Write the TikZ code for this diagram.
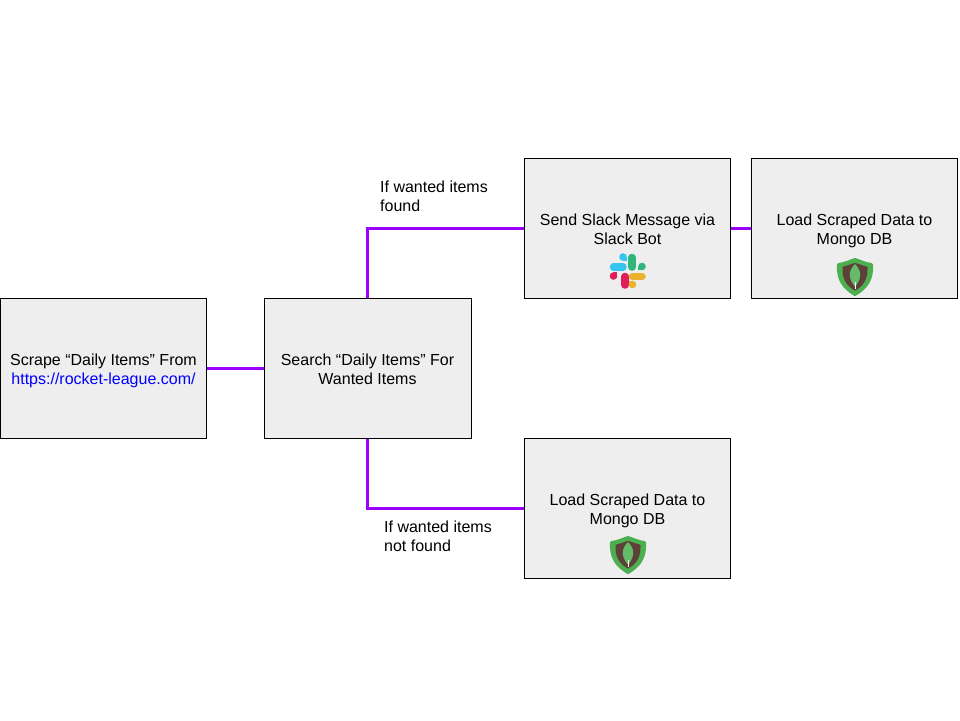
\documentclass[tikz,border=0pt]{standalone}
\usepackage{fontspec}
\setmainfont{Liberation Sans}
\definecolor{boxgray}{HTML}{EEEEEE}
\definecolor{linkpurple}{HTML}{9900FF}
\definecolor{slackblue}{HTML}{36C5F0}
\definecolor{slackgreen}{HTML}{2EB67D}
\definecolor{slackred}{HTML}{E01E5A}
\definecolor{slackyellow}{HTML}{ECB22E}
\definecolor{mongoedge}{HTML}{4CAF50}
\definecolor{mongobrown}{HTML}{5D4037}
\definecolor{mongoleaf}{HTML}{66BB6A}
\tikzset{
  stepbox/.style={draw=black,fill=boxgray,line width=1,inner sep=0,
    minimum width=206,minimum height=140,align=center,
    font=\fontsize{16}{19}\selectfont},
  notetext/.style={inner sep=0,anchor=west,align=left,
    font=\fontsize{16}{19}\selectfont},
  wire/.style={draw=linkpurple,line width=3}
}
% two lines of box text, with the same height and depth in every box
\newcommand\boxlines[2]{\rule{0pt}{18pt}#1\\#2\rule[-4pt]{0pt}{4pt}}
\newcommand\slacklogo[1]{{%
  \begin{scope}[shift={(#1)},line cap=round,line width=7.5]
    \draw[slackblue] (-14.5,-4) -- (-5,-4);
    \draw[slackgreen] (4,-13.5) -- (4,-4);
    \draw[slackred] (-3,5.5) -- (-3,14);
    \draw[slackyellow] (4.5,5.5) -- (14,5.5);
    % small tabs: a round end plus a square corner towards the long bar
    \fill[slackblue] (-5,-14) circle (3.8);
    \fill[slackblue] (-5,-14) rectangle (-1.2,-10.2);
    \fill[slackgreen] (14,-4.5) circle (3.8);
    \fill[slackgreen] (10.2,-4.5) rectangle (14,-0.7);
    \fill[slackred] (-14.5,5) circle (3.8);
    \fill[slackred] (-14.5,1.2) rectangle (-10.7,5);
    \fill[slackyellow] (4.5,13.5) circle (3.8);
    \fill[slackyellow] (0.7,9.7) rectangle (4.5,13.5);
  \end{scope}}}
\newcommand\mongologo[1]{{%
  \begin{scope}[shift={(#1)},line join=round]
    \filldraw[mongoedge,line width=3] (-16.5,-12.5) .. controls (-9,-13.5) and (-5,-16) .. (0,-17.5)
      .. controls (5,-16) and (9,-13.5) .. (16.5,-12.5)
      .. controls (17.5,3) and (11,11) .. (0,17.5)
      .. controls (-11,11) and (-17.5,3) .. (-16.5,-12.5) -- cycle;
    \filldraw[mongobrown,line width=2] (-11.5,-9.5) .. controls (-7,-10.5) and (-4,-12) .. (0,-13)
      .. controls (4,-12) and (7,-10.5) .. (11.5,-9.5)
      .. controls (12,1) and (8,8) .. (0,12.5)
      .. controls (-8,8) and (-12,1) .. (-11.5,-9.5) -- cycle;
    \fill[mongoleaf] (0,-13) .. controls (6,-7) and (7.5,0) .. (0.7,9)
      -- (-0.7,9) .. controls (-7.5,0) and (-6,-7) .. (0,-13) -- cycle;
    \draw[white,line width=1] (0,5) -- (0,12);
  \end{scope}}}

\begin{document}
\begin{tikzpicture}[x=1pt,y=-1pt]
\useasboundingbox (0,0) rectangle (960,720);
% ---------- boxes ----------
\node[stepbox] (scrape) at (103.5,368) {\boxlines{Scrape “Daily Items” From}{\textcolor{blue}{https://rocket-league.com/}}};
\node[stepbox,minimum width=207] (search) at (367.5,368) {\boxlines{Search “Daily Items” For}{Wanted Items}};
\node[stepbox] (slack) at (627.5,228) {\boxlines{Send Slack Message via}{Slack Bot}};
\node[stepbox] (loadtop) at (854.5,228) {\boxlines{Load Scraped Data to}{Mongo DB}};
\node[stepbox] (loadlow) at (627.5,508) {\boxlines{Load Scraped Data to}{Mongo DB}};
% ---------- connectors ----------
\draw[wire] (scrape.east) -- (search.west);
\draw[wire] (search.north) |- (slack.west);
\draw[wire] (slack.east) -- (loadtop.west);
\draw[wire] (search.south) |- (loadlow.west);
% ---------- labels ----------
\node[notetext] (foundnote) at (380,196.5) {If wanted items\\found};
\node[notetext] (missnote) at (384,536.5) {If wanted items\\not found};
% ---------- logos ----------
\slacklogo{628,271}
\mongologo{855,277}
\mongologo{628,555}
\end{tikzpicture}
\end{document}
